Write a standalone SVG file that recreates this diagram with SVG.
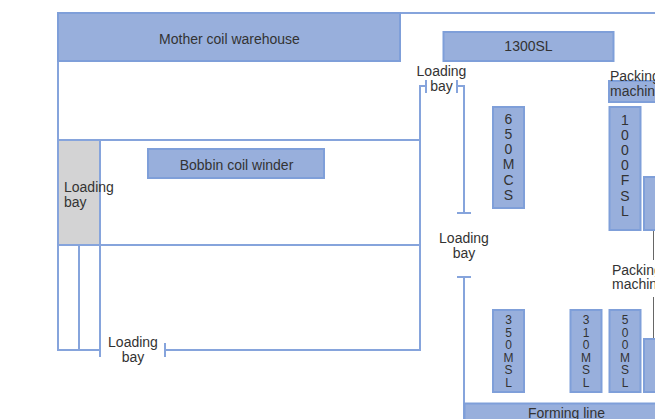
<svg xmlns="http://www.w3.org/2000/svg" width="655" height="419" viewBox="0 0 655 419">
<style>
.box{fill:#98afdc;stroke:#7f9fd9;stroke-width:2}
.wall{fill:none;stroke:#86a4dc;stroke-width:2}
.gline{fill:none;stroke:#666;stroke-width:1}
text{font-family:"Liberation Sans",Arial,sans-serif;font-size:14px;fill:#333}
.c{text-anchor:middle}
.v{text-anchor:middle;font-size:14px}
.vs{text-anchor:middle;font-size:12px}
</style>
<rect width="655" height="419" fill="#fff"/>
<g id="connectors">
<path class="wall" d="M58,13 H660 M58,13 V350 H100 M58,140 H420 M58,245 H420 M79,245 V350 M100,140 V357 M165,343 V357 M165,350 H420 V86 H426 M426,80 V93 M457,80 V93 M457,86 H464 V213 M457,213 H471 M457,277 H471 M464,277 V419"/>
<path class="gline" d="M653.5,222 V260 M653.5,297 V352"/>
</g>
<g id="mother-coil-warehouse">
<rect class="box" x="58" y="13" width="342" height="48"/>
<text class="c" x="229.5" y="43.5">Mother coil warehouse</text>
</g>
<g id="loading-bay-left">
<rect x="58" y="140" width="42" height="105" fill="#d3d3d4" stroke="#86a4dc" stroke-width="2"/>
<text x="64" y="191.5">Loading</text>
<text x="64" y="206.5">bay</text>
</g>
<g id="bobbin-coil-winder">
<rect class="box" x="148" y="149" width="176" height="29"/>
<text class="c" x="236.5" y="169.5">Bobbin coil winder</text>
</g>
<g id="loading-bay-bottom">
<text class="c" x="133" y="346.5">Loading</text>
<text class="c" x="133" y="361.5">bay</text>
</g>
<g id="loading-bay-top">
<text class="c" x="441.5" y="76">Loading</text>
<text class="c" x="441.5" y="91">bay</text>
</g>
<g id="loading-bay-middle">
<text class="c" x="464" y="243">Loading</text>
<text class="c" x="464" y="258">bay</text>
</g>
<g id="sl1300">
<rect class="box" x="443.5" y="32" width="170" height="29"/>
<text class="c" x="528.5" y="51">1300SL</text>
</g>
<g id="packing-machine-top">
<rect class="box" x="609" y="81" width="60" height="21"/>
<text x="610" y="81">Packing</text>
<text x="610" y="96">machine</text>
</g>
<g id="mcs650">
<rect class="box" x="493" y="107" width="31" height="101"/>
<text class="v" x="508.5" y="123.5"><tspan x="508.5">6</tspan><tspan x="508.5" dy="15.3">5</tspan><tspan x="508.5" dy="15.3">0</tspan><tspan x="508.5" dy="15.3">M</tspan><tspan x="508.5" dy="15.3">C</tspan><tspan x="508.5" dy="15.3">S</tspan></text>
</g>
<g id="fsl1000">
<rect class="box" x="609.5" y="107" width="31" height="123"/>
<text class="v" x="625" y="125"><tspan x="625">1</tspan><tspan x="625" dy="15.1">0</tspan><tspan x="625" dy="15.1">0</tspan><tspan x="625" dy="15.1">0</tspan><tspan x="625" dy="15.1">F</tspan><tspan x="625" dy="15.1">S</tspan><tspan x="625" dy="15.1">L</tspan></text>
</g>
<g id="machine-right-top">
<rect class="box" x="644" y="177" width="30" height="53"/>
</g>
<g id="packing-machine-middle">
<text x="612" y="275">Packing</text>
<text x="612" y="289">machine</text>
</g>
<g id="msl350">
<rect class="box" x="493" y="310" width="31" height="82"/>
<text class="vs" x="508.5" y="324"><tspan x="508.5">3</tspan><tspan x="508.5" dy="12.6">5</tspan><tspan x="508.5" dy="12.6">0</tspan><tspan x="508.5" dy="12.6">M</tspan><tspan x="508.5" dy="12.6">S</tspan><tspan x="508.5" dy="12.6">L</tspan></text>
</g>
<g id="msl310">
<rect class="box" x="570.5" y="310" width="31" height="82"/>
<text class="vs" x="586" y="324"><tspan x="586">3</tspan><tspan x="586" dy="12.6">1</tspan><tspan x="586" dy="12.6">0</tspan><tspan x="586" dy="12.6">M</tspan><tspan x="586" dy="12.6">S</tspan><tspan x="586" dy="12.6">L</tspan></text>
</g>
<g id="msl500">
<rect class="box" x="609.5" y="310" width="31" height="82"/>
<text class="vs" x="625" y="324"><tspan x="625">5</tspan><tspan x="625" dy="12.6">0</tspan><tspan x="625" dy="12.6">0</tspan><tspan x="625" dy="12.6">M</tspan><tspan x="625" dy="12.6">S</tspan><tspan x="625" dy="12.6">L</tspan></text>
</g>
<g id="machine-right-bottom">
<rect class="box" x="644" y="339" width="30" height="53"/>
</g>
<g id="forming-line">
<rect class="box" x="464.5" y="403.5" width="210" height="25"/>
<text class="c" x="566.5" y="418">Forming line</text>
</g>
</svg>
